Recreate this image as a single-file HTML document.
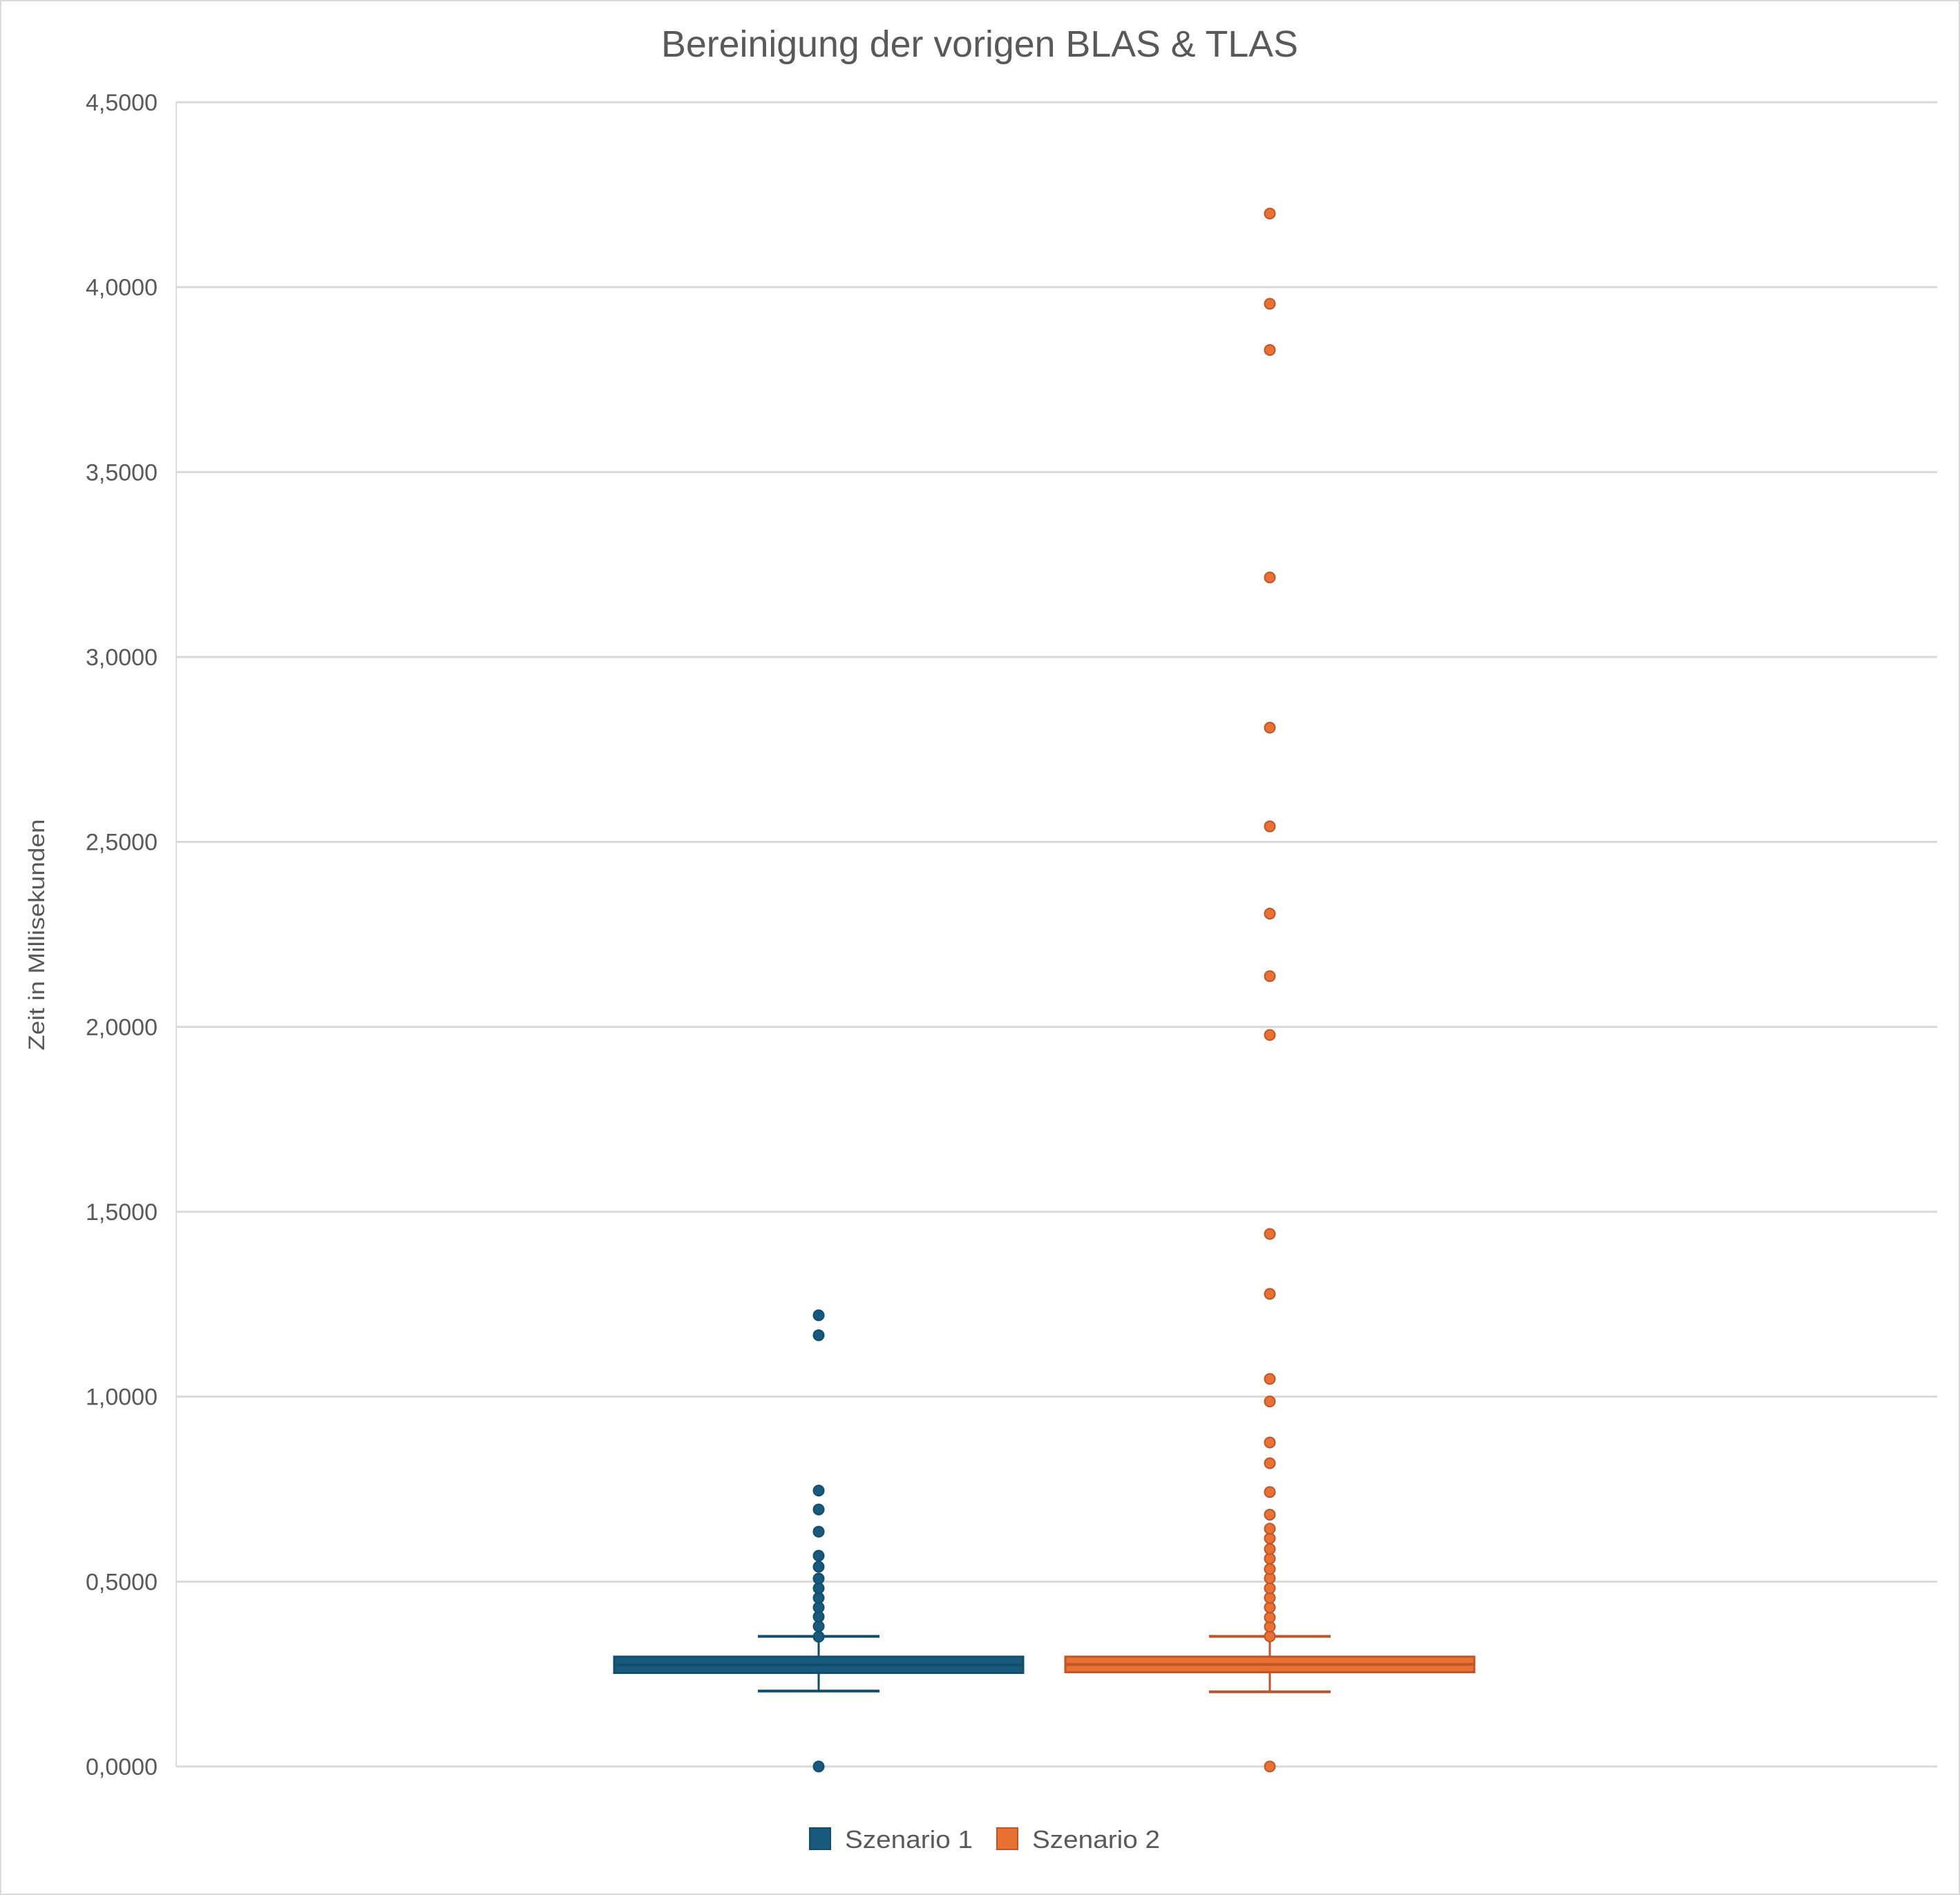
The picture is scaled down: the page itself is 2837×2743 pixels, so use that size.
<!DOCTYPE html>
<html><head><meta charset="utf-8"><style>
html,body{margin:0;padding:0;background:#fff}
svg{display:block}
text{font-family:"Liberation Sans",sans-serif;fill:#595959}
</style></head><body>
<svg id="chart" width="2837" height="2743" viewBox="0 0 2837 2743" xmlns="http://www.w3.org/2000/svg">
<rect x="1" y="1" width="2835" height="2741" fill="#fff" stroke="#d9d9d9" stroke-width="2"/>
<text x="1418" y="82" font-size="54" text-anchor="middle" textLength="922" lengthAdjust="spacingAndGlyphs">Bereinigung der vorigen BLAS &amp; TLAS</text>
<text transform="translate(64,1353) rotate(-90)" font-size="32" text-anchor="middle" textLength="335" lengthAdjust="spacingAndGlyphs">Zeit in Millisekunden</text>
<g id="grid"></g><g id="marks"></g>
<g>
<rect x="1172" y="2646" width="30" height="31" fill="#175a7e" stroke="#124d6c" stroke-width="2"/>
<text x="1223" y="2675" font-size="36" textLength="185" lengthAdjust="spacingAndGlyphs">Szenario 1</text>
<rect x="1443" y="2646" width="30" height="31" fill="#e97132" stroke="#c0542a" stroke-width="2"/>
<text x="1494" y="2675" font-size="36" textLength="185" lengthAdjust="spacingAndGlyphs">Szenario 2</text>
</g>
</svg>
<script>
const yTicks=[0,0.5,1,1.5,2,2.5,3,3.5,4,4.5];
const tickLabels=["0,0000","0,5000","1,0000","1,5000","2,0000","2,5000","3,0000","3,5000","4,0000","4,5000"];
const seriesNames=["Szenario 1","Szenario 2"];
const q1=[0.253,0.255];
const median=[0.275,0.276];
const q3=[0.297,0.297];
const whiskerLow=[0.204,0.202];
const whiskerHigh=[0.352,0.352];
const outliers1=[0,0.351,0.379,0.405,0.430,0.456,0.482,0.508,0.540,0.570,0.635,0.695,0.746,1.166,1.220];
const outliers2=[0,0.352,0.378,0.403,0.430,0.456,0.482,0.509,0.534,0.562,0.588,0.617,0.643,0.681,0.742,0.820,0.876,0.987,1.048,1.278,1.440,1.978,2.137,2.306,2.542,2.809,3.215,3.830,3.955,4.199];
const outliers=[outliers1,outliers2];
const NS='http://www.w3.org/2000/svg';
const left=255,right=2804,y0=2557,yTop=148,vmax=4.5;
const y=v=>y0-(v/vmax)*(y0-yTop);
const xCenter=i=>1185+i*653;
const boxHalf=296,whHalf=88;
const fills=["#175a7e","#e97132"],strokes=["#124d6c","#c0542a"];
function mk(tag,attrs,parent){const e=document.createElementNS(NS,tag);for(const k in attrs)e.setAttribute(k,attrs[k]);parent.appendChild(e);return e;}
const grid=document.getElementById('grid'),marks=document.getElementById('marks');
mk('line',{x1:left,x2:left,y1:yTop,y2:y0,stroke:'#d9d9d9','stroke-width':2},grid);
yTicks.forEach((t,i)=>{
  const l=mk('line',{x1:left,x2:right,y1:y(t),y2:y(t),stroke:'#d9d9d9','stroke-width':3},grid);
  
  
  const tx=mk('text',{x:228,y:y(t)+12,'font-size':34,'text-anchor':'end'},grid);
  tx.textContent=tickLabels[i];
  
  
});
seriesNames.forEach((n,i)=>{
  const cx=xCenter(i);
  const g=mk('g',{},marks);
  
  
  mk('line',{x1:cx,x2:cx,y1:y(whiskerHigh[i]),y2:y(q3[i]),stroke:strokes[i],'stroke-width':3},g);
  mk('line',{x1:cx,x2:cx,y1:y(q1[i]),y2:y(whiskerLow[i]),stroke:strokes[i],'stroke-width':3},g);
  mk('line',{x1:cx-whHalf,x2:cx+whHalf,y1:y(whiskerHigh[i]),y2:y(whiskerHigh[i]),stroke:strokes[i],'stroke-width':4},g);
  mk('line',{x1:cx-whHalf,x2:cx+whHalf,y1:y(whiskerLow[i]),y2:y(whiskerLow[i]),stroke:strokes[i],'stroke-width':4},g);
  const b=mk('rect',{x:cx-boxHalf,y:y(q3[i]),width:boxHalf*2,height:y(q1[i])-y(q3[i]),fill:fills[i],stroke:strokes[i],'stroke-width':3},g);
  
  
  mk('line',{x1:cx-boxHalf,x2:cx+boxHalf,y1:y(median[i]),y2:y(median[i]),stroke:strokes[i],'stroke-width':4},g);
  outliers[i].forEach(v=>{
    const c=mk('circle',{cx:cx,cy:y(v),r:7.5,fill:fills[i],stroke:strokes[i],'stroke-width':2},g);
    
    
  });
});
</script>
</body></html>
